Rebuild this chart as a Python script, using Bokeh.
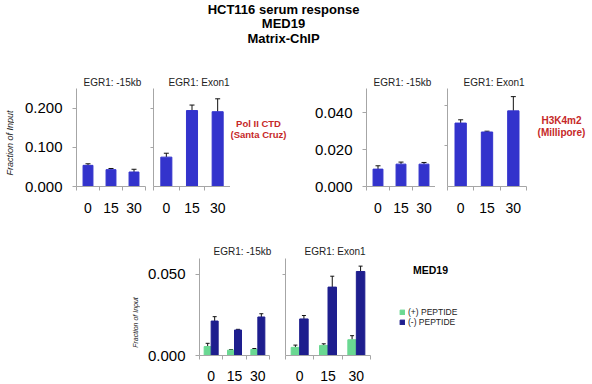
import math
from bokeh.plotting import figure
from bokeh.models import (FactorRange, Range1d, LinearAxis, CategoricalAxis, FixedTicker,
                          NumeralTickFormatter, CustomJSTickFormatter, Whisker, TeeHead,
                          ColumnDataSource, Label, Legend, LegendItem)
from bokeh.layouts import row, column
from bokeh.transform import dodge
from bokeh.embed import file_html
from bokeh.resources import INLINE

# ---------------- data ----------------
TIMES = ["0", "15", "30"]
SUBPANELS = ["EGR1: -15kb", "EGR1: Exon1"]
SERIES = ["(+) PEPTIDE", "(-) PEPTIDE"]
TITLE_LINES = ["HCT116 serum response", "MED19", "Matrix-ChIP"]

POL2_UP = [0.054, 0.043, 0.037]
POL2_UP_ERR = [0.004, 0.003, 0.007]
POL2_EX = [0.075, 0.194, 0.191]
POL2_EX_ERR = [0.010, 0.014, 0.033]

H3K4_UP = [0.0094, 0.0121, 0.0121]
H3K4_UP_ERR = [0.0018, 0.0011, 0.0009]
H3K4_EX = [0.0312, 0.0268, 0.0372]
H3K4_EX_ERR = [0.0016, 0.0004, 0.0070]

MED_UP_PLUS = [0.0055, 0.0033, 0.0037]
MED_UP_PLUS_ERR = [0.0020, 0.0003, 0.0006]
MED_UP_MINUS = [0.0212, 0.0157, 0.0237]
MED_UP_MINUS_ERR = [0.0027, 0.0004, 0.0020]
MED_EX_PLUS = [0.0050, 0.0062, 0.0097]
MED_EX_PLUS_ERR = [0.0014, 0.0010, 0.0025]
MED_EX_MINUS = [0.0225, 0.0421, 0.0517]
MED_EX_MINUS_ERR = [0.0021, 0.0067, 0.0033]

# ---------------- styles ----------------
FONT = "Liberation Sans"
GRAY = "#A6A6A6"
BLUE = "#3333CC"
NAVY = "#1E1E8E"
GREEN = "#6AD892"
RED = "#C62828"
ERR = "#111111"


def text_fig(w, h, x0, ytop, ybot):
    # text-only panel; its frame is aligned with the plot frames of its row
    f = figure(width=w, height=h, x_range=Range1d(x0, x0 + w), y_range=Range1d(ybot, ytop),
               x_axis_location=None, y_axis_location=None, min_border=0, title=None,
               outline_line_color=None, toolbar_location=None, output_backend="svg")
    f.grid.visible = False
    return f


def add_text(f, x, y, txt, size, style="normal", color="#000000", angle=0.0):
    f.add_layout(Label(x=x, y=y, text=txt, text_align="center", text_baseline="middle",
                       text_font=FONT, text_font_size=size, text_font_style=style,
                       text_color=color, angle=angle))


def panel(width, height, left, right, top, bottom, ymax, yticks, labels, title,
          title_offset, title_standoff, xstand):
    p = figure(width=width, height=height, x_range=FactorRange(factors=TIMES),
               y_range=Range1d(0, ymax), x_axis_location=None, y_axis_location=None,
               min_border_left=left, min_border_right=right, min_border_top=top,
               min_border_bottom=bottom, outline_line_color=None,
               toolbar_location=None, output_backend="svg", title=title)
    p.title.align = "left"
    p.title.offset = title_offset
    p.title.standoff = title_standoff
    p.title.text_font = FONT
    p.title.text_font_size = "10px"
    p.title.text_font_style = "normal"
    p.title.text_color = "#222222"
    p.grid.visible = False

    yax = LinearAxis(ticker=FixedTicker(ticks=yticks), axis_line_color=GRAY,
                     major_tick_line_color=GRAY, major_tick_out=4, major_tick_in=0,
                     minor_tick_line_color=None, major_label_text_font=FONT,
                     major_label_text_font_size="15px", major_label_text_color="#000000")
    if labels:
        yax.formatter = NumeralTickFormatter(format="0.000")
        yax.major_label_standoff = 10
    else:
        yax.formatter = CustomJSTickFormatter(code="return ''")
        yax.major_label_standoff = 0
        yax.major_tick_out = 3
    p.add_layout(yax, "left")

    # boundary ticks between categories (synthetic coordinates 0..n)
    eax = LinearAxis(ticker=FixedTicker(ticks=list(range(len(TIMES) + 1))),
                     formatter=CustomJSTickFormatter(code="return ''"), axis_line_color=GRAY,
                     major_tick_line_color=GRAY, major_tick_out=4, major_tick_in=0,
                     minor_tick_line_color=None, major_label_standoff=0)
    p.add_layout(eax, "below")
    cax = CategoricalAxis(axis_line_color=None, major_tick_line_color=None,
                          major_tick_out=0, major_tick_in=0, major_label_standoff=xstand,
                          major_label_text_font=FONT, major_label_text_font_size="14px",
                          major_label_text_color="#000000")
    p.add_layout(cax, "below")
    return p


def single_bars(p, vals, errs, color):
    src = ColumnDataSource(dict(t=TIMES, top=vals,
                                up=[v + e for v, e in zip(vals, errs)]))
    p.vbar(x="t", top="top", width=0.43, source=src, fill_color=color, line_color=color)
    p.add_layout(Whisker(source=src, base="t", lower="top", upper="up", line_color=ERR,
                         line_width=1, lower_head=None,
                         upper_head=TeeHead(size=5, line_color=ERR, line_width=1)))


def paired_bars(p, plus, plus_err, minus, minus_err):
    src = ColumnDataSource(dict(t=TIMES, plus=plus, minus=minus,
                                plus_up=[v + e for v, e in zip(plus, plus_err)],
                                minus_up=[v + e for v, e in zip(minus, minus_err)]))
    for key, off, color in (("plus", -0.15, GREEN), ("minus", 0.15, NAVY)):
        p.vbar(x=dodge("t", off, range=p.x_range), top=key, width=0.3, source=src,
               fill_color=color, line_color=color)
        p.add_layout(Whisker(source=src, base=dodge("t", off, range=p.x_range), lower=key,
                             upper=key + "_up", line_color=ERR, line_width=1, lower_head=None,
                             upper_head=TeeHead(size=4, line_color=ERR, line_width=1)))
    return src


# ---------------- title band ----------------
title_f = text_fig(592, 55, 0, 0, 55)
for i, t in enumerate(TITLE_LINES):
    add_text(title_f, 283, 8.5 + 14.5 * i, t, "13px", "bold")

# ---------------- top band ----------------
TOP_Y0, TOP_H = 55, 170
T_TOP, T_BOT = 33, 39
T_F0, T_F1 = TOP_Y0 + T_TOP, TOP_Y0 + TOP_H - T_BOT

ylab1 = text_fig(14, TOP_H, 0, T_F0, T_F1)
add_text(ylab1, 9, 142.5, "Fraction of Input", "9px", "italic", "#222222", math.pi / 2)

tl1 = panel(135, TOP_H, 62, 4, T_TOP, T_BOT, 0.2503, [0, 0.1, 0.2], True,
            SUBPANELS[0], 7, 2, 12)
single_bars(tl1, POL2_UP, POL2_UP_ERR, BLUE)
tl2 = panel(81, TOP_H, 4, 0, T_TOP, T_BOT, 0.2503, [0.1, 0.2], False,
            SUBPANELS[1], 15, 2, 12)
single_bars(tl2, POL2_EX, POL2_EX_ERR, BLUE)

note1 = text_fig(66, TOP_H, 230, T_F0, T_F1)
add_text(note1, 258, 123, "Pol II CTD", "9.5px", "bold", RED)
add_text(note1, 258, 134, "(Santa Cruz)", "9.5px", "bold", RED)

tr1 = panel(139, TOP_H, 70, 0, T_TOP, T_BOT, 0.0530, [0, 0.02, 0.04], True,
            SUBPANELS[0], 7, 2, 12)
single_bars(tr1, H3K4_UP, H3K4_UP_ERR, BLUE)
tr2 = panel(93, TOP_H, 12, 2, T_TOP, T_BOT, 0.0482, [0.02, 0.04], False,
            SUBPANELS[1], 16, 2, 12)
single_bars(tr2, H3K4_EX, H3K4_EX_ERR, BLUE)

note2 = text_fig(64, TOP_H, 528, T_F0, T_F1)
add_text(note2, 561, 120, "H3K4m2", "10px", "bold", RED)
add_text(note2, 561, 132, "(Millipore)", "10px", "bold", RED)

# ---------------- bottom band ----------------
BOT_Y0, BOT_H = 225, 159
B_TOP, B_BOT = 33, 29
B_F0, B_F1 = BOT_Y0 + B_TOP, BOT_Y0 + BOT_H - B_BOT

ylab2 = text_fig(140, BOT_H, 0, B_F0, B_F1)
add_text(ylab2, 134.5, 322, "Fraction of Input", "7px", "italic", "#222222", math.pi / 2)

b1 = panel(134, BOT_H, 59, 5, B_TOP, B_BOT, 0.0597, [0, 0.05], True,
           SUBPANELS[0], 14, 4, 11)
paired_bars(b1, MED_UP_PLUS, MED_UP_PLUS_ERR, MED_UP_MINUS, MED_UP_MINUS_ERR)
b2 = panel(98, BOT_H, 11, 2, B_TOP, B_BOT, 0.0597, [0.05], False,
           SUBPANELS[1], 19, 4, 11)
src_ex = paired_bars(b2, MED_EX_PLUS, MED_EX_PLUS_ERR, MED_EX_MINUS, MED_EX_MINUS_ERR)

# legend panel (series swatches come from the same data source)
legf = figure(width=220, height=BOT_H, x_range=FactorRange(factors=TIMES),
              y_range=Range1d(B_F1, B_F0), x_axis_location=None, y_axis_location=None,
              min_border=0, title=None, outline_line_color=None, toolbar_location=None,
              output_backend="svg")
legf.grid.visible = False
rg = legf.vbar(x="t", top="plus", width=0.3, source=src_ex, fill_color=GREEN,
               line_color=GREEN, visible=False)
rb = legf.vbar(x="t", top="minus", width=0.3, source=src_ex, fill_color=NAVY,
               line_color=NAVY, visible=False)
legf.add_layout(Legend(items=[LegendItem(label=SERIES[0], renderers=[rg]),
                              LegendItem(label=SERIES[1], renderers=[rb])],
                       location=(27, 28), padding=0, margin=0, spacing=0, glyph_width=6,
                       glyph_height=6, label_height=6, label_standoff=3,
                       label_text_font=FONT, label_text_font_size="8.5px",
                       label_text_color="#222222", border_line_color=None,
                       background_fill_alpha=0))
legf.add_layout(Label(x=58 / (220 / len(TIMES)), y=269, text="MED19", text_align="center",
                      text_baseline="middle", text_font=FONT, text_font_size="10.5px",
                      text_font_style="bold", text_color="#000000"))

layout = column(title_f,
                row(ylab1, tl1, tl2, note1, tr1, tr2, note2),
                row(ylab2, b1, b2, legf))

open("out.html", "w").write(file_html(layout, INLINE))
